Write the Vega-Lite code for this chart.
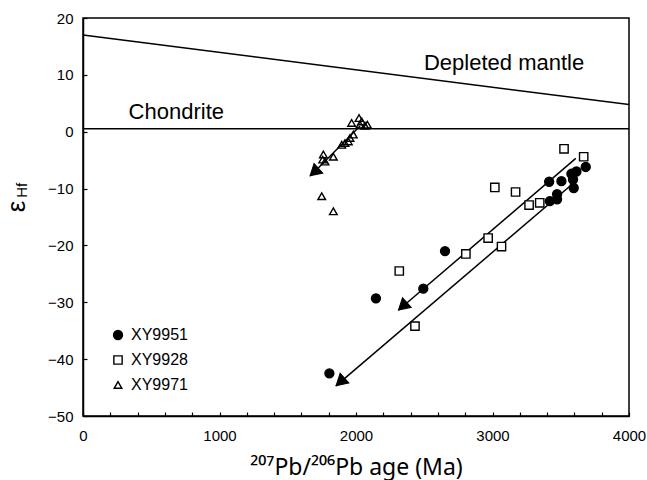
{
  "$schema": "https://vega.github.io/schema/vega-lite/v6.json",
  "width": 546,
  "height": 398,
  "autosize": {"type": "none"},
  "padding": {"left": 83, "top": 18, "right": 18, "bottom": 64},
  "background": "white",
  "datasets": {
    "pts": [
      {"age": 3415, "ehf": -8.8, "sample": "XY9951"},
      {"age": 3505, "ehf": -8.7, "sample": "XY9951"},
      {"age": 3578, "ehf": -7.4, "sample": "XY9951"},
      {"age": 3615, "ehf": -7.0, "sample": "XY9951"},
      {"age": 3683, "ehf": -6.2, "sample": "XY9951"},
      {"age": 3590, "ehf": -8.4, "sample": "XY9951"},
      {"age": 3595, "ehf": -9.9, "sample": "XY9951"},
      {"age": 3420, "ehf": -12.2, "sample": "XY9951"},
      {"age": 3473, "ehf": -11.9, "sample": "XY9951"},
      {"age": 3473, "ehf": -11.0, "sample": "XY9951"},
      {"age": 2652, "ehf": -21.0, "sample": "XY9951"},
      {"age": 2493, "ehf": -27.6, "sample": "XY9951"},
      {"age": 2146, "ehf": -29.3, "sample": "XY9951"},
      {"age": 1805, "ehf": -42.5, "sample": "XY9951"},
      {"age": 3524, "ehf": -3.0, "sample": "XY9928"},
      {"age": 3668, "ehf": -4.4, "sample": "XY9928"},
      {"age": 3017, "ehf": -9.8, "sample": "XY9928"},
      {"age": 3169, "ehf": -10.6, "sample": "XY9928"},
      {"age": 3268, "ehf": -12.9, "sample": "XY9928"},
      {"age": 3346, "ehf": -12.5, "sample": "XY9928"},
      {"age": 2968, "ehf": -18.7, "sample": "XY9928"},
      {"age": 3066, "ehf": -20.2, "sample": "XY9928"},
      {"age": 2317, "ehf": -24.5, "sample": "XY9928"},
      {"age": 2805, "ehf": -21.5, "sample": "XY9928"},
      {"age": 2432, "ehf": -34.2, "sample": "XY9928"},
      {"age": 1968, "ehf": 1.55, "sample": "XY9971"},
      {"age": 2022, "ehf": 2.4, "sample": "XY9971"},
      {"age": 2042, "ehf": 1.8, "sample": "XY9971"},
      {"age": 2083, "ehf": 1.25, "sample": "XY9971"},
      {"age": 2066, "ehf": 1.05, "sample": "XY9971"},
      {"age": 2029, "ehf": 1.25, "sample": "XY9971"},
      {"age": 1980, "ehf": -0.5, "sample": "XY9971"},
      {"age": 1956, "ehf": -1.1, "sample": "XY9971"},
      {"age": 1944, "ehf": -1.7, "sample": "XY9971"},
      {"age": 1919, "ehf": -2.0, "sample": "XY9971"},
      {"age": 1895, "ehf": -2.3, "sample": "XY9971"},
      {"age": 1834, "ehf": -4.4, "sample": "XY9971"},
      {"age": 1761, "ehf": -4.0, "sample": "XY9971"},
      {"age": 1756, "ehf": -4.9, "sample": "XY9971"},
      {"age": 1773, "ehf": -5.25, "sample": "XY9971"},
      {"age": 1749, "ehf": -11.35, "sample": "XY9971"},
      {"age": 1834, "ehf": -14.0, "sample": "XY9971"}
    ],
    "lines": [
      {"x1": 0, "y1": 17.0, "x2": 4000, "y2": 4.77},
      {"x1": 0, "y1": 0.5, "x2": 4000, "y2": 0.5},
      {"x1": 3610, "y1": -4.7, "x2": 2310, "y2": -31.4},
      {"x1": 3620, "y1": -8.5, "x2": 1853, "y2": -44.7},
      {"x1": 2030, "y1": 1.0, "x2": 1665, "y2": -7.8}
    ],
    "heads": [
      {"x": 2342, "y": -30.7},
      {"x": 1885, "y": -44.0},
      {"x": 1694, "y": -7.1}
    ],
    "labels": [
      {"x": 334, "y": 2.25, "text": "Chondrite"},
      {"x": 2498, "y": 10.8, "text": "Depleted mantle"}
    ],
    "ysub": [
      {"x": -444, "y": -10.3, "text": "Hf"}
    ]
  },
  "layer": [
    {
      "data": {"name": "lines"},
      "mark": {"type": "rule", "stroke": "black", "strokeWidth": 1.5},
      "encoding": {
        "x": {"field": "x1", "type": "quantitative",
          "scale": {"domain": [0, 4000], "nice": false, "zero": false},
          "axis": {
            "orient": "bottom",
            "title": "²⁰⁷Pb/²⁰⁶Pb age (Ma)",
            "titleFont": "Noto Sans",
            "titleFontSize": 23,
            "values": [0, 1000, 2000, 3000, 4000],
            "format": "d",
            "labelOverlap": false,
            "labelPadding": 16,
            "titleBaseline": "alphabetic",
            "titleY": 58,
            "titleX": 273
          }},
        "y": {"field": "y1", "type": "quantitative",
          "scale": {"domain": [-50, 20], "nice": false, "zero": false},
          "axis": {
            "title": "ε",
            "titleFontSize": 26,
            "titleAngle": 270,
            "titleBaseline": "middle",
            "titleAlign": "center",
            "titleX": -67,
            "titleY": 188,
            "values": [-50,-45,-40,-35,-30,-25,-20,-15,-10,-5,0,5,10,15,20],
            "format": "d",
            "labelOverlap": false,
            "labelExpr": "datum.value % 10 === 0 ? datum.label : ''"
          }},
        "x2": {"field": "x2"},
        "y2": {"field": "y2"}
      }
    },
    {
      "data": {"name": "pts"},
      "mark": {"type": "point", "filled": true, "stroke": "black", "strokeWidth": 1.4, "opacity": 1},
      "encoding": {
        "x": {"field": "age", "type": "quantitative",
          "axis": {
            "orient": "bottom",
            "title": null,
            "labels": false,
            "domain": false,
            "values": [200,400,600,800,1200,1400,1600,1800,2200,2400,2600,2800,3200,3400,3600,3800]
          }},
        "y": {"field": "ehf", "type": "quantitative"},
        "shape": {"field": "sample", "type": "nominal", "title": null,
          "scale": {"domain": ["XY9951", "XY9928", "XY9971"], "range": ["circle", "square", "triangle-up"]},
          "legend": {"orient": "none", "legendX": 27, "legendY": 309, "padding": 0, "rowPadding": 9, "labelFontSize": 16, "labelFont": "Liberation Sans", "labelColor": "black", "labelOffset": 5, "symbolStrokeColor": "black", "symbolStrokeWidth": 1.4}},
        "fill": {"field": "sample", "type": "nominal", "title": null,
          "scale": {"domain": ["XY9951", "XY9928", "XY9971"], "range": ["black", "white", "transparent"]}},
        "size": {"field": "sample", "type": "nominal", "title": null,
          "scale": {"domain": ["XY9951", "XY9928", "XY9971"], "range": [80, 58, 180]}}
      }
    },
    {
      "data": {"name": "heads"},
      "mark": {"type": "point", "shape": "triangle-up", "filled": true, "fill": "black", "stroke": "black", "strokeWidth": 1, "size": 170, "opacity": 1},
      "encoding": {
        "x": {"field": "x", "type": "quantitative", "axis": null},
        "y": {"field": "y", "type": "quantitative"},
        "angle": {"value": 228}
      }
    },
    {
      "data": {"name": "labels"},
      "mark": {"type": "text", "align": "left", "baseline": "alphabetic", "font": "Liberation Sans", "fontSize": 22, "color": "black"},
      "encoding": {
        "x": {"field": "x", "type": "quantitative", "axis": null},
        "y": {"field": "y", "type": "quantitative"},
        "text": {"field": "text"}
      }
    },
    {
      "data": {"name": "ysub"},
      "mark": {"type": "text", "align": "center", "baseline": "middle", "font": "Liberation Sans", "fontSize": 15, "color": "black"},
      "encoding": {
        "x": {"field": "x", "type": "quantitative", "axis": null},
        "y": {"field": "y", "type": "quantitative"},
        "text": {"field": "text"},
        "angle": {"value": 270}
      }
    }
  ],
  "resolve": {"scale": {"x": "shared", "y": "shared"}, "axis": {"x": "independent"}},
  "config": {
    "view": {"stroke": "black", "strokeWidth": 1.5},
    "axis": {
      "grid": false,
      "domainColor": "black",
      "domainWidth": 1.5,
      "tickColor": "black",
      "tickWidth": 1.2,
      "tickSize": -4,
      "labelFont": "Liberation Sans",
      "labelFontSize": 15,
      "labelColor": "black",
      "labelPadding": 14,
      "labelOverlap": false,
      "labelBound": false,
      "labelFlush": false,
      "titleFont": "Liberation Sans",
      "titleFontSize": 21,
      "titleFontWeight": "normal",
      "titleColor": "black"
    }
  }
}
